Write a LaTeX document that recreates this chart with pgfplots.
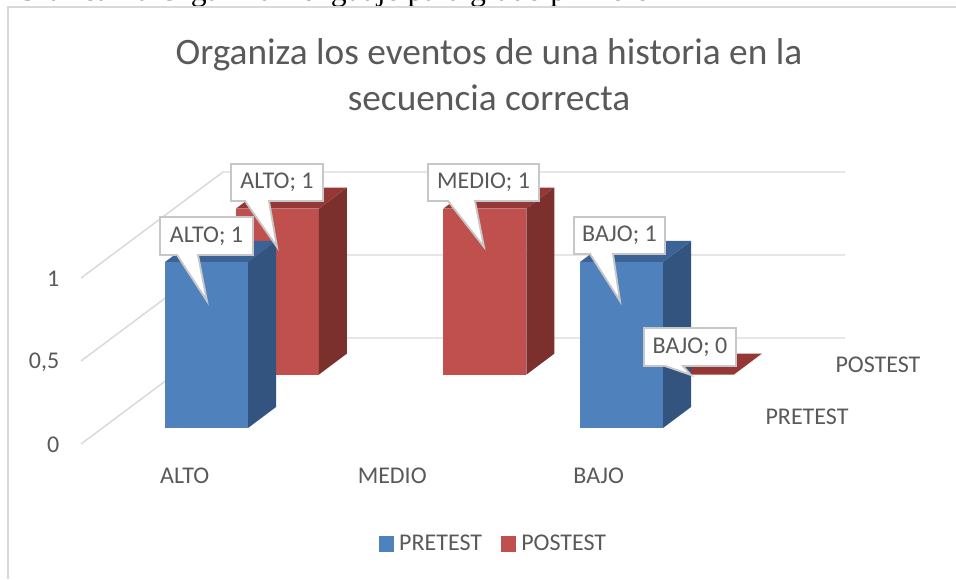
\documentclass[border=0pt]{standalone}
\usepackage{pgfplots}
\pgfplotsset{compat=1.18}
\usepackage{fontspec}
\setmainfont{Carlito}
\newfontfamily\headfont{Liberation Serif}
\definecolor{txt}{HTML}{595959}
\definecolor{gridc}{HTML}{D9D9D9}
\definecolor{blueF}{HTML}{4F81BD}
\definecolor{blueS}{HTML}{32547E}
\definecolor{blueT}{HTML}{3B6395}
\definecolor{redF}{HTML}{C0504D}
\definecolor{redS}{HTML}{7B302E}
\definecolor{redT}{HTML}{953735}
\newcommand{\callout}[9]{%
  \draw[line width=1.4pt,draw=black!22,fill=white,line join=miter]
    (#1,#3) -- (#2,#3) -- (#2,#4) -- (#6,#4) -- (#7,#8) -- (#5,#4) -- (#1,#4) -- cycle;
  \node[text=txt,font=\fontsize{18pt}{20pt}\selectfont] at ({(#1+#2)/2},{(#3+#4)/2}) {#9};
}
\begin{document}
\begin{tikzpicture}
\begin{axis}[
  scale only axis, width=717pt, height=434.25pt,
  xmin=-0.99518, xmax=3.6120, ymin=-0.9096, ymax=2.5783,
  axis line style={draw=none}, major tick length=0pt,
  xtick={-0.105,0.895,1.89}, xticklabels={ALTO,MEDIO,BAJO},
  ytick={-0.0964,0.4036,0.9036}, yticklabels={0,{0,5},1},
  tick label style={text=txt,font=\fontsize{18pt}{20pt}\selectfont},
  /pgf/number format/assume math mode=true,
  x tick label style={yshift=86.5pt},
  y tick label style={xshift=48pt,yshift=-0.6pt},
  title={Organiza los eventos de una historia en la\\secuencia correcta},
  title style={at={(axis description cs:0.5115,0.857)},anchor=center,align=center,
    text=txt,font=\fontsize{28pt}{34.5pt}\selectfont},
  legend columns=2,
  legend style={at={(axis description cs:0.5165,0.061)},anchor=center,draw=none,fill=none,
    text=txt,font=\fontsize{18pt}{20pt}\selectfont,
    /tikz/every even column/.style={column sep=12pt}},
  legend image code/.code={\fill[#1] (0pt,-5.5pt) rectangle (11pt,5.5pt);\path (13pt,0pt);},
]
% grid walls
\addplot[forget plot,gridc,line width=1.1pt] coordinates {(-0.6048,-0.0964)(0.0795,0.5422)(3.0771,0.5422)};
\addplot[forget plot,gridc,line width=1.1pt] coordinates {(-0.6048,0.4036)(0.0795,1.0422)(3.0771,1.0422)};
\addplot[forget plot,gridc,line width=1.1pt] coordinates {(-0.6048,0.9036)(0.0795,1.5422)(3.0771,1.5422)};
% POSTEST ALTO = 1
\addplot[forget plot,fill=redF,draw=none] coordinates {(0.142,0.322)(0.542,0.322)(0.542,1.322)(0.142,1.322)} -- cycle;
\addplot[forget plot,fill=redS,draw=none] coordinates {(0.542,0.322)(0.677,0.4485)(0.677,1.4485)(0.542,1.322)} -- cycle;
\addplot[forget plot,fill=redT,draw=none] coordinates {(0.142,1.322)(0.542,1.322)(0.677,1.4485)(0.277,1.4485)} -- cycle;
% POSTEST MEDIO = 1
\addplot[forget plot,fill=redF,draw=none] coordinates {(1.142,0.322)(1.542,0.322)(1.542,1.322)(1.142,1.322)} -- cycle;
\addplot[forget plot,fill=redS,draw=none] coordinates {(1.542,0.322)(1.677,0.4485)(1.677,1.4485)(1.542,1.322)} -- cycle;
\addplot[forget plot,fill=redT,draw=none] coordinates {(1.142,1.322)(1.542,1.322)(1.677,1.4485)(1.277,1.4485)} -- cycle;
% POSTEST BAJO = 0
\addplot[forget plot,fill=redT,draw=none] coordinates {(2.142,0.322)(2.542,0.322)(2.677,0.4485)(2.277,0.4485)} -- cycle;
% PRETEST ALTO = 1
\addplot[forget plot,fill=blueF,draw=none] coordinates {(-0.2,0)(0.2,0)(0.2,1)(-0.2,1)} -- cycle;
\addplot[forget plot,fill=blueS,draw=none] coordinates {(0.2,0)(0.335,0.1265)(0.335,1.1265)(0.2,1)} -- cycle;
\addplot[forget plot,fill=blueT,draw=none] coordinates {(-0.2,1)(0.2,1)(0.335,1.1265)(-0.065,1.1265)} -- cycle;
% PRETEST BAJO = 1
\addplot[forget plot,fill=blueF,draw=none] coordinates {(1.8,0)(2.2,0)(2.2,1)(1.8,1)} -- cycle;
\addplot[forget plot,fill=blueS,draw=none] coordinates {(2.2,0)(2.335,0.1265)(2.335,1.1265)(2.2,1)} -- cycle;
\addplot[forget plot,fill=blueT,draw=none] coordinates {(1.8,1)(2.2,1)(2.335,1.1265)(1.935,1.1265)} -- cycle;
\addlegendimage{blueF}\addlegendentry{PRETEST}
\addlegendimage{redF}\addlegendentry{POSTEST}
\end{axis}
\begin{scope}[shift={(0pt,434.25pt)},x=0.75pt,y=-0.75pt]
  \begin{scope}
    \clip (0,0) rectangle (956,579);
    \node[anchor=base west,inner sep=0pt,text=black,font=\headfont\fontsize{23.8pt}{26pt}\selectfont] at (15,0.5) {Gráfica 10 Organizar lenguaje para grado primero};
  \end{scope}
  \draw[gridc,line width=1.1pt] (8,579) -- (8,7) -- (956,7);
  \node[text=txt,font=\fontsize{18pt}{20pt}\selectfont] at (878,365) {POSTEST};
  \node[text=txt,font=\fontsize{18pt}{20pt}\selectfont] at (807,417) {PRETEST};
  \callout{231}{323}{164}{201}{245}{269}{277}{247}{ALTO; 1}
  \callout{160}{253}{217}{255}{177}{198}{207}{301}{ALTO; 1}
  \callout{428}{539}{164}{201}{448}{475}{484}{247}{MEDIO; 1}
  \callout{574}{665}{217}{254}{590}{613}{620}{301}{BAJO; 1}
  \callout{644}{736}{328}{366}{665}{683}{691}{375}{BAJO; 0}
\end{scope}
\pgfresetboundingbox
\useasboundingbox (0pt,0pt) rectangle (717pt,434.25pt);
\end{tikzpicture}
\end{document}
